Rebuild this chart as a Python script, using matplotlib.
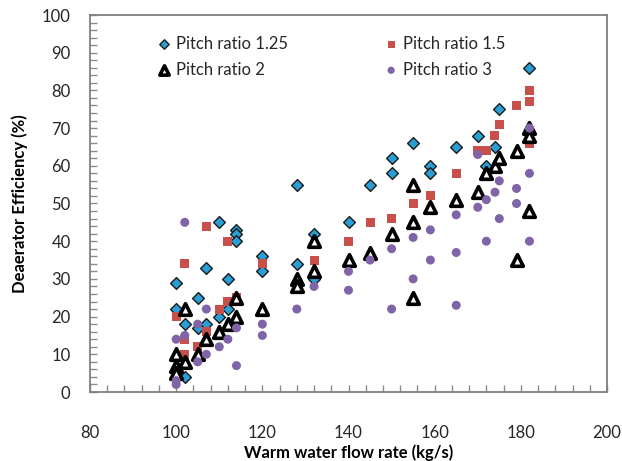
import matplotlib
matplotlib.use("Agg")
import matplotlib.pyplot as plt
from matplotlib.ticker import MultipleLocator

# ---- data ----
x_125 = [100, 100, 102, 102, 105, 105, 107, 107, 110, 110, 112, 112, 114, 114, 114,
         120, 120, 128, 128, 132, 132, 140, 145, 150, 150, 155, 159, 159, 165, 170,
         172, 174, 175, 182]
y_125 = [29, 22, 18, 4, 25, 17, 33, 18, 45, 20, 30, 22, 43, 42, 40,
         36, 32, 55, 34, 42, 30, 45, 55, 62, 58, 66, 60, 58, 65, 68,
         60, 65, 75, 86]

x_15 = [100, 102, 102, 102, 105, 107, 107, 110, 112, 112, 114, 120, 132, 140, 145,
        150, 155, 159, 165, 170, 172, 174, 175, 179, 182, 182, 182]
y_15 = [20, 34, 14, 10, 12, 44, 16, 22, 40, 24, 25, 34, 35, 40, 45,
        46, 50, 52, 58, 64, 64, 68, 71, 76, 80, 77, 66]

x_2 = [100, 100, 100, 102, 102, 105, 107, 110, 112, 114, 114, 120, 128, 128, 132,
       132, 140, 145, 150, 155, 155, 155, 159, 165, 170, 172, 174, 175, 179, 179,
       182, 182, 182]
y_2 = [10, 7, 5, 22, 8, 10, 14, 16, 18, 25, 20, 22, 30, 28, 40,
       32, 35, 37, 42, 55, 45, 25, 49, 51, 53, 58, 60, 62, 64, 35,
       70, 68, 48]

x_3 = [100, 100, 100, 102, 102, 105, 105, 107, 107, 110, 112, 114, 114, 120, 120,
       128, 132, 140, 140, 145, 150, 150, 155, 155, 159, 159, 165, 165, 165, 170,
       170, 172, 172, 174, 175, 175, 179, 179, 182, 182, 182]
y_3 = [14, 3, 2, 45, 15, 18, 8, 22, 10, 12, 14, 17, 7, 18, 15,
       22, 28, 32, 27, 35, 38, 22, 41, 30, 43, 35, 47, 37, 23, 63,
       49, 51, 40, 53, 56, 46, 54, 50, 70, 58, 40]

labels = ["Pitch ratio 1.25", "Pitch ratio 1.5", "Pitch ratio 2", "Pitch ratio 3"]
x_ticks = [80, 100, 120, 140, 160, 180, 200]
y_ticks = [0, 10, 20, 30, 40, 50, 60, 70, 80, 90, 100]

plt.rcParams['font.family'] = ['Lato', 'DejaVu Sans']

fig = plt.figure(figsize=(6.22, 4.61), dpi=100)
ax = fig.add_axes([90/622, 1 - 392/461, 517/622, 377/461])

h1 = ax.scatter(x_125, y_125, marker='D', s=36, c='#2A9FD6', edgecolors='#1a1a1a',
                linewidths=1.0, zorder=3, label=labels[0])
h2 = ax.scatter(x_15, y_15, marker='s', s=42, c='#C8504B', edgecolors='none',
                zorder=4, label=labels[1])
h3 = ax.scatter(x_2, y_2, marker='^', s=70, c='white', edgecolors='black',
                linewidths=2.6, zorder=5, label=labels[2])
h4 = ax.scatter(x_3, y_3, marker='o', s=42, c='#8064A8', edgecolors='none',
                zorder=6, label=labels[3])

ax.set_xlim(80, 200)
ax.set_ylim(0, 100)
ax.set_xticks(x_ticks)
ax.set_yticks(y_ticks)
ax.xaxis.set_minor_locator(MultipleLocator(4))
ax.yaxis.set_minor_locator(MultipleLocator(2))
ax.tick_params(which='both', direction='in', length=5, width=1, color='#8c8c8c')
ax.tick_params(axis='x', which='major', pad=24, labelsize=12, labelcolor='#262626')
ax.tick_params(axis='y', which='major', pad=14, labelsize=12, labelcolor='#262626')
for sp in ax.spines.values():
    sp.set_color('#7f7f7f')
    sp.set_linewidth(1.3)

ax.set_xlabel("Warm water flow rate (kg/s)", fontsize=12, fontweight='bold',
              labelpad=2)
ax.set_ylabel("Deaerator Efficiency (%)", fontsize=12, fontweight='bold',
              labelpad=10)

# row-wise order: (1.25, 1.5) on first row, (2, 3) on second
leg = ax.legend(handles=[h1, h3, h2, h4],
                labels=[labels[0], labels[2], labels[1], labels[3]],
                ncol=2, frameon=False,
                loc='upper left', bbox_to_anchor=(0.095, 0.985),
                fontsize=12, handletextpad=0.1, columnspacing=5.6,
                labelspacing=0.6, markerscale=0.8, handlelength=1.2)
for t in leg.get_texts():
    t.set_color('#262626')

fig.savefig("out.png", dpi=100)
